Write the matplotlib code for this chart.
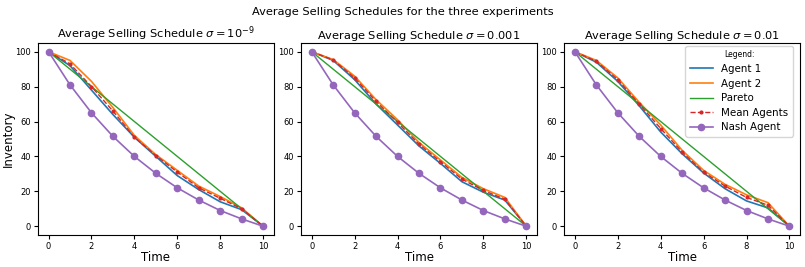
import matplotlib
matplotlib.use("Agg")
import matplotlib.pyplot as plt
import numpy as np

# time steps
time = np.arange(11)

titles = [
    r"Average Selling Schedule $\sigma = 10^{-9}$",
    r"Average Selling Schedule $\sigma = 0.001$",
    r"Average Selling Schedule $\sigma = 0.01$",
]

pareto = [100, 90, 80, 70, 60, 50, 40, 30, 20, 10, 0]
nash = [100, 81, 65, 51.5, 40, 30.3, 22, 15, 9, 4.2, 0]

agent1 = [
    [100, 92, 78, 64, 51, 40, 29, 21, 14, 9.5, 0],
    [100, 95, 84, 70, 58, 46, 36, 25.5, 19.5, 15, 0],
    [100, 94, 83, 69, 54, 41.5, 30.5, 21.5, 14.5, 10.5, 0],
]
agent2 = [
    [100, 95, 83, 68, 52, 41, 32, 23, 17, 10.5, 0],
    [100, 95.5, 86, 72.5, 61, 48, 38, 28, 21.5, 16.5, 0],
    [100, 95, 85, 71, 58, 43.5, 32, 24, 18, 13.5, 0],
]
mean_agents = [
    [100, 93, 80, 66, 51, 40.5, 31, 22, 16, 10, 0],
    [100, 95.3, 85, 71.5, 59.5, 47, 37, 27, 20.5, 15.5, 0],
    [100, 94.5, 84, 70, 56, 42.5, 31, 23, 16.5, 12, 0],
]

fig, axes = plt.subplots(1, 3, figsize=(8.05, 2.67), dpi=100)
fig.subplots_adjust(left=0.047, right=0.994, top=0.839, bottom=0.12, wspace=0.115)
fig.suptitle("Average Selling Schedules for the three experiments", fontsize=8.2, y=0.975)

for i, ax in enumerate(axes):
    ax.plot(time, agent1[i], color="tab:blue", lw=1.2, label="Agent 1")
    ax.plot(time, agent2[i], color="tab:orange", lw=1.2, label="Agent 2")
    ax.plot(time, pareto, color="tab:green", lw=1.0, label="Pareto")
    ax.plot(time, mean_agents[i], color="tab:red", ls="--", marker=".", ms=4,
            lw=1.0, label="Mean Agents")
    ax.plot(time, nash, color="tab:purple", marker="o", ms=4.5, lw=1.2,
            label="Nash Agent")
    ax.set_title(titles[i], fontsize=8.2, pad=3)
    ax.set_xlabel("Time", fontsize=8.5, labelpad=0)
    ax.set_xticks([0, 2, 4, 6, 8, 10])
    ax.set_yticks([0, 20, 40, 60, 80, 100])
    ax.tick_params(labelsize=6, length=3, pad=2)
    for s in ax.spines.values():
        s.set_linewidth(0.8)

axes[0].set_ylabel("Inventory", fontsize=8.5, labelpad=0)
axes[2].legend(title="Legend:", title_fontsize=5.5, fontsize=7.4, loc="upper right",
               handlelength=2.3, labelspacing=0.45, borderpad=0.4,
               bbox_to_anchor=(0.99, 1.01))

fig.savefig("out.png", dpi=100)
